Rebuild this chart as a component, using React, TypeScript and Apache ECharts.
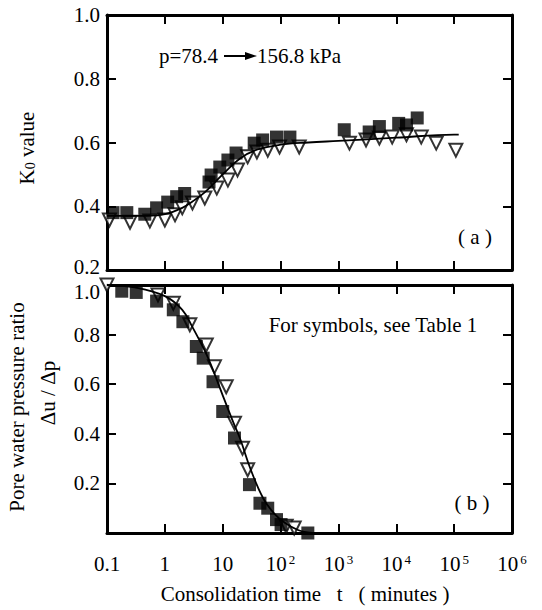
import React, { useEffect, useRef } from "react";
import * as echarts from "echarts";

// Panel (a): K0 value
const sqA_t = [0.127, 0.22, 0.45, 0.72, 1.12, 1.6, 2.2, 5.8, 6.3, 8.9, 12.3, 17, 35, 49, 85, 145, 1260, 3400, 5100, 11000, 15000, 23000];
const sqA_k = [0.38, 0.38, 0.375, 0.395, 0.413, 0.43, 0.44, 0.476, 0.498, 0.523, 0.545, 0.567, 0.598, 0.608, 0.617, 0.617, 0.64, 0.633, 0.65, 0.66, 0.655, 0.677];
const triA_t = [0.11, 0.25, 0.55, 1.0, 1.5, 2.0, 3.0, 4.9, 7.9, 12.3, 18, 27, 39, 60, 96, 210, 1550, 3000, 5100, 8500, 15000, 27000, 49000, 107000];
const triA_k = [0.357, 0.35, 0.354, 0.357, 0.373, 0.395, 0.41, 0.426, 0.457, 0.482, 0.514, 0.555, 0.57, 0.576, 0.586, 0.586, 0.598, 0.608, 0.614, 0.617, 0.624, 0.617, 0.598, 0.576];
const lineA_t = [0.1, 0.5, 1, 2, 3, 5, 10, 20, 40, 100, 300, 1000, 10000, 100000, 120000];
const lineA_k = [0.37, 0.37, 0.375, 0.395, 0.415, 0.445, 0.5, 0.55, 0.578, 0.593, 0.6, 0.605, 0.615, 0.625, 0.625];

// Panel (b): pore water pressure ratio
const sqB_t = [0.18, 0.32, 0.72, 1.4, 2.05, 3.5, 4.6, 6.8, 10, 16, 29, 44, 60, 85, 102, 296];
const sqB_v = [0.975, 0.97, 0.935, 0.9, 0.852, 0.752, 0.705, 0.61, 0.49, 0.383, 0.195, 0.12, 0.1, 0.054, 0.034, 0.0];
const triB_t = [0.1, 0.76, 1.4, 2.7, 5.2, 7.2, 11.5, 16, 22, 27, 125, 172];
const triB_v = [1.0, 0.96, 0.926, 0.84, 0.758, 0.67, 0.59, 0.443, 0.342, 0.255, 0.027, 0.02];
const lineB_t = [0.1, 0.3, 1, 2, 3, 5, 7, 10, 15, 20, 30, 50, 80, 120, 200, 350];
const lineB_v = [1.0, 0.99, 0.955, 0.9, 0.83, 0.73, 0.65, 0.555, 0.45, 0.38, 0.26, 0.14, 0.075, 0.04, 0.012, 0];

const xMin = 0.1;
const xMax = 1e6;

const FONT = "'Liberation Serif', 'Times New Roman', serif";
const FS = 21;

const zip = (a: number[], b: number[]) => a.map((v, i) => [v, b[i]]);

export default function App() {
  const ref = useRef<HTMLDivElement>(null);
  useEffect(() => {
    if (!ref.current) return;
    const chart = echarts.init(ref.current, null, { renderer: "svg" });

    const axisLine = { show: true, onZero: false, lineStyle: { color: "#000", width: 3 } };
    const tick = { show: true, inside: true, length: 9, lineStyle: { color: "#000", width: 2 } };
    const xLog = (gridIndex: number, position: string, labels: boolean) => ({
      type: "log",
      logBase: 10,
      min: xMin,
      max: xMax,
      interval: 1,
      gridIndex,
      position,
      axisLine,
      axisTick: tick,
      splitLine: { show: false },
      minorTick: { show: false },
      axisLabel: labels
        ? {
            show: true,
            margin: 20,
            fontFamily: FONT,
            fontSize: FS,
            color: "#000",
            formatter: (v: number) => {
              const e = Math.round(Math.log10(v));
              if (e === -1) return "{b|0.1}";
              if (e === 0) return "{b|1}";
              if (e === 1) return "{b|10}";
              return "{b|10}{s|" + e + "}";
            },
            rich: {
              b: { fontFamily: FONT, fontSize: FS, color: "#000" },
              s: { fontFamily: FONT, fontSize: 13, color: "#000", verticalAlign: "top", padding: [0, 0, 0, 2] },
            },
          }
        : { show: false },
    });
    const yVal = (gridIndex: number, position: string, min: number, labels: boolean, bottomPanel: boolean) => ({
      type: "value",
      min,
      max: 1.0,
      interval: 0.2,
      gridIndex,
      position,
      axisLine,
      axisTick: tick,
      splitLine: { show: false },
      axisLabel: labels
        ? {
            show: true,
            margin: 7,
            fontFamily: FONT,
            fontSize: FS,
            color: "#000",
            formatter: (v: number) => {
              if (bottomPanel && Math.abs(v) < 1e-9) return "";
              if (bottomPanel && Math.abs(v - 1) < 1e-9) return "{low|1.0}";
              if (!bottomPanel && Math.abs(v - 0.2) < 1e-9) return "{up|0.2}";
              return v.toFixed(1);
            },
            rich: {
              low: { fontFamily: FONT, fontSize: FS, color: "#000", padding: [14, 0, 0, 0] },
              up: { fontFamily: FONT, fontSize: FS, color: "#000", padding: [0, 0, 6, 0] },
            },
          }
        : { show: false },
    });

    const sq = (xi: number, t: number[], v: number[]) => ({
      type: "scatter",
      xAxisIndex: xi,
      yAxisIndex: xi,
      symbol: "rect",
      symbolSize: 13,
      clip: false,
      itemStyle: { color: "#000" },
      data: zip(t, v),
      z: 3,
    });
    const tri = (xi: number, t: number[], v: number[]) => ({
      type: "scatter",
      xAxisIndex: xi,
      yAxisIndex: xi,
      symbol: "triangle",
      symbolRotate: 180,
      symbolSize: 13,
      clip: false,
      itemStyle: { color: "#fff", borderColor: "#000", borderWidth: 2 },
      data: zip(t, v),
      z: 2,
    });
    const ln = (xi: number, t: number[], v: number[]) => ({
      type: "line",
      xAxisIndex: xi,
      yAxisIndex: xi,
      smooth: 0.4,
      showSymbol: false,
      symbol: "none",
      lineStyle: { color: "#000", width: 1.8 },
      data: zip(t, v),
      z: 4,
    });

    const txt = (x: number, y: number, text: string, align = "center", rotation = 0) => ({
      type: "text",
      x,
      y,
      rotation,
      style: { text, align, verticalAlign: "middle", fontFamily: FONT, fontSize: FS, fill: "#000" },
    });

    const option: any = {
      animation: false,
      backgroundColor: "#fff",
      textStyle: { fontFamily: FONT },
      grid: [
        { left: 107, top: 15, width: 405, height: 255 },
        { left: 107, top: 285, width: 405, height: 248 },
      ],
      xAxis: [
        xLog(0, "bottom", false),
        xLog(1, "bottom", true),
        xLog(0, "top", false),
        xLog(1, "top", false),
      ],
      yAxis: [
        yVal(0, "left", 0.2, true, false),
        yVal(1, "left", 0, true, true),
        yVal(0, "right", 0.2, false, false),
        yVal(1, "right", 0, false, false),
      ],
      series: [
        tri(0, triA_t, triA_k),
        sq(0, sqA_t, sqA_k),
        ln(0, lineA_t, lineA_k),
        tri(1, triB_t, triB_v),
        sq(1, sqB_t, sqB_v),
        ln(1, lineB_t, lineB_v),
      ],
      graphic: [
        {
          type: "text",
          x: 27,
          y: 148,
          rotation: Math.PI / 2,
          style: {
            text: "{a|K}{s|0}{a| value}",
            align: "center",
            verticalAlign: "middle",
            fontFamily: FONT,
            rich: {
              a: { fontFamily: FONT, fontSize: FS, fill: "#000" },
              s: { fontFamily: FONT, fontSize: 14, fill: "#000", verticalAlign: "bottom" },
            },
          },
        },
        txt(17, 407, "Pore water pressure ratio", "center", Math.PI / 2),
        txt(48, 393, "Δu / Δp", "center", Math.PI / 2),
        txt(305, 594, "Consolidation time   t   ( minutes )"),
        txt(159, 56, "p=78.4", "left"),
        {
          type: "line",
          shape: { x1: 224, y1: 56, x2: 249, y2: 56 },
          style: { stroke: "#000", lineWidth: 2 },
        },
        {
          type: "polygon",
          shape: { points: [[245, 52], [257, 56], [245, 60]] },
          style: { fill: "#000" },
        },
        txt(257, 56, "156.8 kPa", "left"),
        txt(475, 237, "( a )"),
        txt(472, 503, "( b )"),
        txt(373, 325, "For symbols, see Table 1"),
      ],
    };
    chart.setOption(option);
    return () => chart.dispose();
  }, []);
  return <div ref={ref} style={{ position: "fixed", left: 0, top: 0, width: 542, height: 610, background: "#fff" }} />;
}
